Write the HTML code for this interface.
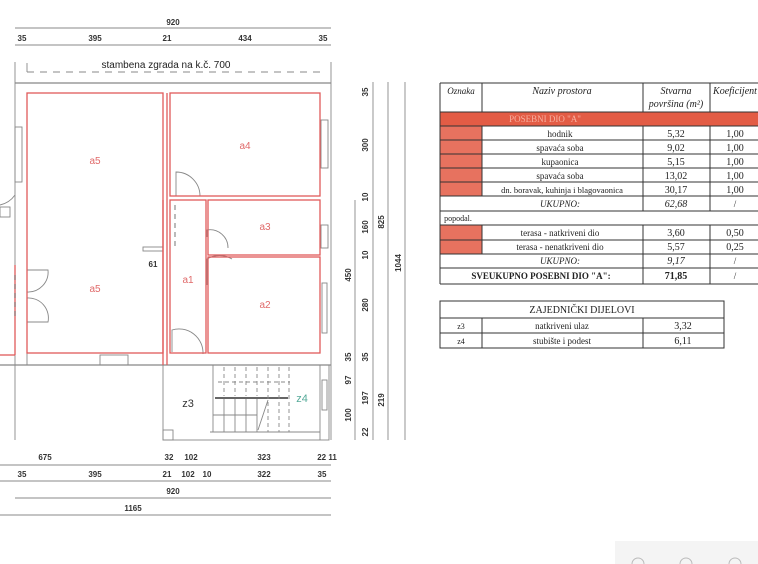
<!DOCTYPE html>
<html><head><meta charset="utf-8"><style>
html,body{margin:0;padding:0;background:#fff;}
svg{display:block;}
text{font-family:"Liberation Sans",sans-serif;}
.t text{font-family:"Liberation Serif",serif;font-size:9px;fill:#222;text-anchor:middle;}
.d{font-size:8px;fill:#333;text-anchor:middle;font-weight:bold;}
.r{fill:#e06a6a;font-size:10px;text-anchor:middle;}
</style></head><body>
<svg width="758" height="564" viewBox="0 0 758 564" xmlns="http://www.w3.org/2000/svg">
<rect width="758" height="564" fill="#fff"/>
<g stroke="#888" stroke-width="0.9" fill="none">
<line x1="15" y1="28" x2="331" y2="28"/>
<line x1="15" y1="45" x2="331" y2="45"/>
<line x1="27" y1="72" x2="320" y2="72" stroke-dasharray="7,6"/>
<line x1="27" y1="63" x2="27" y2="72"/>
<line x1="15" y1="62" x2="15" y2="440"/>
<line x1="331" y1="62" x2="331" y2="440"/>
<line x1="15" y1="83" x2="331" y2="83" stroke-width="1.3"/>
<line x1="0" y1="365" x2="331" y2="365" stroke-width="1.2"/>
<line x1="27" y1="93" x2="27" y2="365"/>
<line x1="0" y1="465" x2="331" y2="465"/>
<line x1="0" y1="481" x2="331" y2="481"/>
<line x1="15" y1="498" x2="331" y2="498"/>
<line x1="0" y1="515" x2="331" y2="515"/>
<line x1="355" y1="200" x2="355" y2="440"/>
<line x1="373" y1="82" x2="373" y2="440"/>
<line x1="388" y1="82" x2="388" y2="440"/>
<line x1="405" y1="82" x2="405" y2="440"/>
<rect x="163" y="365" width="166" height="75"/>
<line x1="320" y1="365" x2="320" y2="440"/>
<line x1="163" y1="365" x2="163" y2="200"/>
<rect x="163" y="430" width="10" height="10"/>
<line x1="210" y1="432" x2="320" y2="432"/>
<line x1="213" y1="365" x2="213" y2="432"/>
<line x1="224" y1="398" x2="224" y2="432"/><line x1="235" y1="398" x2="235" y2="432"/>
<line x1="246" y1="398" x2="246" y2="432"/><line x1="257" y1="398" x2="257" y2="432"/>
<line x1="213" y1="415" x2="257" y2="415"/>
<line x1="215" y1="398" x2="288" y2="398" stroke="#666" stroke-width="2"/>
<g stroke-dasharray="4,3">
<line x1="224" y1="367" x2="224" y2="396"/><line x1="235" y1="367" x2="235" y2="396"/>
<line x1="246" y1="367" x2="246" y2="396"/><line x1="257" y1="367" x2="257" y2="396"/>
<line x1="268" y1="367" x2="268" y2="432"/><line x1="279" y1="367" x2="279" y2="432"/>
<line x1="289" y1="367" x2="289" y2="432"/>
<line x1="218" y1="382" x2="290" y2="382"/>
</g>
<line x1="258" y1="430" x2="268" y2="400"/>
<rect x="15" y="127" width="7" height="55"/>
<rect x="321" y="120" width="7" height="48"/>
<rect x="321" y="225" width="7" height="23"/>
<rect x="322" y="283" width="5" height="50"/>
<rect x="322" y="380" width="5" height="30"/>
<rect x="100" y="355" width="28" height="10"/>
<rect x="143" y="247" width="20" height="4"/>
<path d="M176 196 L176 172 A24 24 0 0 1 200 196"/>
<path d="M207 237 L207 230 A18 18 0 0 1 228 248"/>
<path d="M207 285 L207 259 A24 24 0 0 1 232 259"/>
<path d="M172 352 L172 330 A24 24 0 0 1 203 354"/>
<path d="M27 270 L48 270 A20 20 0 0 1 27 292"/>
<path d="M27 322 L48 322 A20 20 0 0 0 27 298"/>
<path d="M0 205 A25 25 0 0 0 15 195"/>
<rect x="0" y="207" width="10" height="10"/>
</g>
<g stroke="#e05a5a" stroke-width="1.3" fill="none">
<rect x="27" y="93" width="136" height="260"/>
<rect x="170" y="93" width="150" height="103"/>
<rect x="208" y="200" width="112" height="55"/>
<rect x="208" y="257" width="112" height="96"/>
<rect x="170" y="200" width="36" height="153"/>
<line x1="163" y1="200" x2="163" y2="365"/>
<line x1="167" y1="93" x2="167" y2="365"/>
<line x1="15" y1="265" x2="15" y2="355"/>
<line x1="0" y1="355" x2="15" y2="355"/>
</g>
<g stroke="#555" stroke-width="0.8" stroke-dasharray="5,4"><line x1="175" y1="205" x2="175" y2="250"/><line x1="15" y1="275" x2="15" y2="320"/></g>
<text class="r" x="95" y="164">a5</text>
<text class="r" x="245" y="149">a4</text>
<text class="r" x="265" y="230">a3</text>
<text class="r" x="95" y="292">a5</text>
<text class="r" x="188" y="283">a1</text>
<text class="r" x="265" y="308">a2</text>
<text x="188" y="407" font-size="11" text-anchor="middle" fill="#333">z3</text>
<text x="302" y="402" font-size="11" text-anchor="middle" fill="#5a9">z4</text>
<text x="166" y="68" font-size="10" text-anchor="middle" fill="#222">stambena zgrada na k.č. 700</text>
<text x="153" y="267" class="d">61</text>
<g>
<text x="173" y="25" class="d">920</text>
<text x="22" y="41" class="d">35</text><text x="95" y="41" class="d">395</text>
<text x="167" y="41" class="d">21</text><text x="245" y="41" class="d">434</text><text x="323" y="41" class="d">35</text>
<text x="45" y="460" class="d">675</text><text x="169" y="460" class="d">32</text><text x="191" y="460" class="d">102</text>
<text x="264" y="460" class="d">323</text><text x="327" y="460" class="d">22 11</text>
<text x="22" y="477" class="d">35</text><text x="95" y="477" class="d">395</text><text x="167" y="477" class="d">21</text>
<text x="188" y="477" class="d">102</text><text x="207" y="477" class="d">10</text><text x="264" y="477" class="d">322</text><text x="322" y="477" class="d">35</text>
<text x="173" y="494" class="d">920</text><text x="133" y="511" class="d">1165</text>
</g>
<g>
<text transform="translate(368,92) rotate(-90)" class="d">35</text>
<text transform="translate(368,145) rotate(-90)" class="d">300</text>
<text transform="translate(368,197) rotate(-90)" class="d">10</text>
<text transform="translate(368,227) rotate(-90)" class="d">160</text>
<text transform="translate(368,255) rotate(-90)" class="d">10</text>
<text transform="translate(368,305) rotate(-90)" class="d">280</text>
<text transform="translate(368,357) rotate(-90)" class="d">35</text>
<text transform="translate(368,398) rotate(-90)" class="d">197</text>
<text transform="translate(368,432) rotate(-90)" class="d">22</text>
<text transform="translate(351,275) rotate(-90)" class="d">450</text>
<text transform="translate(351,357) rotate(-90)" class="d">35</text>
<text transform="translate(351,380) rotate(-90)" class="d">97</text>
<text transform="translate(351,415) rotate(-90)" class="d">100</text>
<text transform="translate(384,222) rotate(-90)" class="d">825</text>
<text transform="translate(384,400) rotate(-90)" class="d">219</text>
<text transform="translate(401,263) rotate(-90)" class="d">1044</text>
</g>
<rect x="440" y="112" width="318" height="14" fill="#e35c45"/>
<rect x="440" y="126" width="42" height="70" fill="#e7725f"/>
<rect x="440" y="225" width="42" height="29" fill="#e7725f"/>
<g stroke="#333" stroke-width="1" fill="none">
<line x1="440" y1="83" x2="758" y2="83"/>
<line x1="440" y1="112" x2="758" y2="112"/>
<line x1="440" y1="126" x2="758" y2="126"/>
<line x1="440" y1="140" x2="758" y2="140"/><line x1="440" y1="154" x2="758" y2="154"/>
<line x1="440" y1="168" x2="758" y2="168"/><line x1="440" y1="182" x2="758" y2="182"/>
<line x1="440" y1="196" x2="758" y2="196"/><line x1="440" y1="211" x2="758" y2="211"/>
<line x1="440" y1="225" x2="758" y2="225"/><line x1="440" y1="240" x2="758" y2="240"/>
<line x1="440" y1="254" x2="758" y2="254"/><line x1="440" y1="268" x2="758" y2="268"/>
<line x1="440" y1="284" x2="758" y2="284"/>
<line x1="440" y1="83" x2="440" y2="284"/>
<line x1="482" y1="83" x2="482" y2="112"/><line x1="482" y1="126" x2="482" y2="196"/><line x1="482" y1="225" x2="482" y2="254"/>
<line x1="643" y1="83" x2="643" y2="112"/><line x1="643" y1="126" x2="643" y2="211"/><line x1="643" y1="225" x2="643" y2="284"/>
<line x1="710" y1="83" x2="710" y2="112"/><line x1="710" y1="126" x2="710" y2="211"/><line x1="710" y1="225" x2="710" y2="284"/>
<rect x="440" y="301" width="284" height="47"/>
<line x1="440" y1="318" x2="724" y2="318"/><line x1="440" y1="333" x2="724" y2="333"/>
<line x1="482" y1="318" x2="482" y2="348"/><line x1="643" y1="318" x2="643" y2="348"/>
</g>
<g class="t">
<text x="461" y="94" font-size="7" font-style="italic">Oznaka</text>
<text x="562" y="94" font-style="italic" style="font-size:10px">Naziv prostora</text>
<text x="676" y="94" font-style="italic" style="font-size:10px">Stvarna</text>
<text x="676" y="107" font-style="italic" style="font-size:10px">površina (m²)</text>
<text x="735" y="94" font-style="italic" style="font-size:10px">Koeficijent</text>
<text x="545" y="122" style="fill:#f7b0a0">POSEBNI DIO "A"</text>
<text x="560" y="137">hodnik</text><text x="676" y="137" style="font-size:10px">5,32</text><text x="735" y="137" style="font-size:10px">1,00</text>
<text x="560" y="151">spavaća soba</text><text x="676" y="151" style="font-size:10px">9,02</text><text x="735" y="151" style="font-size:10px">1,00</text>
<text x="560" y="165">kupaonica</text><text x="676" y="165" style="font-size:10px">5,15</text><text x="735" y="165" style="font-size:10px">1,00</text>
<text x="560" y="179">spavaća soba</text><text x="676" y="179" style="font-size:10px">13,02</text><text x="735" y="179" style="font-size:10px">1,00</text>
<text x="562" y="193" style="font-size:8.5px">dn. boravak, kuhinja i blagovaonica</text><text x="676" y="193" style="font-size:10px">30,17</text><text x="735" y="193" style="font-size:10px">1,00</text>
<text x="560" y="207" font-style="italic">UKUPNO:</text><text x="676" y="207" font-style="italic" style="font-size:10px">62,68</text><text x="735" y="207">/</text>
<text x="458" y="221" style="font-size:8px">popodal.</text>
<text x="560" y="236">terasa - natkriveni dio</text><text x="676" y="236" style="font-size:10px">3,60</text><text x="735" y="236" style="font-size:10px">0,50</text>
<text x="560" y="250">terasa - nenatkriveni dio</text><text x="676" y="250" style="font-size:10px">5,57</text><text x="735" y="250" style="font-size:10px">0,25</text>
<text x="560" y="264" font-style="italic">UKUPNO:</text><text x="676" y="264" font-style="italic" style="font-size:10px">9,17</text><text x="735" y="264">/</text>
<text x="541" y="279" font-weight="bold">SVEUKUPNO POSEBNI DIO "A":</text><text x="676" y="279" font-weight="bold" style="font-size:10px">71,85</text><text x="735" y="279">/</text>
<text x="582" y="313" style="font-size:10px">ZAJEDNIČKI DIJELOVI</text>
<text x="461" y="329" style="font-size:8px">z3</text><text x="562" y="329">natkriveni ulaz</text><text x="683" y="329" style="font-size:10px">3,32</text>
<text x="461" y="344" style="font-size:8px">z4</text><text x="562" y="344">stubište i podest</text><text x="683" y="344" style="font-size:10px">6,11</text>
</g>
<rect x="615" y="541" width="143" height="23" fill="#f4f4f4"/>
<g stroke="#bbb" fill="none"><circle cx="638" cy="564" r="6"/><circle cx="686" cy="564" r="6"/><circle cx="735" cy="564" r="6"/></g>
</svg>
</body></html>
